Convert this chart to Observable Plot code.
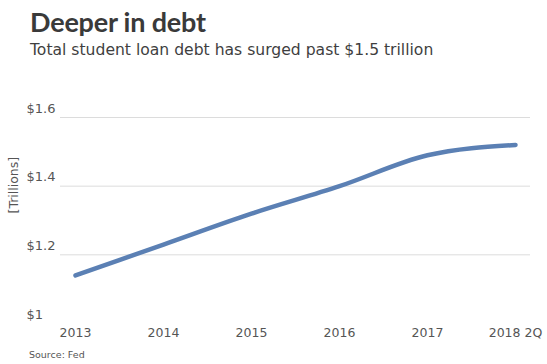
<!DOCTYPE html>
<html>
<head>
<meta charset="utf-8">
<script src="https://cdn.jsdelivr.net/npm/d3@7"></script>
<script src="https://cdn.jsdelivr.net/npm/@observablehq/plot@0.6"></script>
<style>
  html, body { margin: 0; padding: 0; background: #fff; width: 547px; height: 364px; overflow: hidden; }
  body { font-family: "DejaVu Sans", sans-serif; }
  #head { height: 90px; position: relative; }
  #title { position: absolute; left: 30px; top: 5px; font-family: Lato, sans-serif; font-size: 27px; font-weight: 700; color: #3a3a3a; letter-spacing: -0.2px; }
  #subtitle { position: absolute; left: 30px; top: 41px; font-size: 15.6px; color: #3f3f3f; }
  #chart svg { display: block; }
  #caption { position: relative; left: 29px; top: 4px; font-size: 9.5px; color: #555; line-height: 12px; }
</style>
</head>
<body>
<div id="head">
  <div id="title">Deeper in debt</div>
  <div id="subtitle">Total student loan debt has surged past $1.5 trillion</div>
</div>
<div id="chart"></div>
<div id="caption">Source: Fed</div>
<script>
const periods = ["2013", "2014", "2015", "2016", "2017", "2018 2Q"];
const debt = [1.14, 1.23, 1.32, 1.40, 1.49, 1.52];
const yTicks = [1.0, 1.2, 1.4, 1.6];
const gridTicks = [1.2, 1.4, 1.6];
const yLabel = ["[Trillions]"];

const data = periods.map((p, i) => ({period: p, value: debt[i]}));

const chart = Plot.plot({
  width: 547,
  height: 255,
  marginTop: 27,
  marginBottom: 22,
  marginLeft: 74,
  marginRight: 32,
  style: {fontFamily: "'DejaVu Sans', sans-serif", fontSize: "12px", color: "#555", background: "#fff"},
  x: {type: "point", domain: periods, padding: 0},
  y: {domain: [1.0, 1.6]},
  marks: [
    Plot.ruleY(gridTicks, {stroke: "#dcdcdc", strokeWidth: 1, insetLeft: -14, insetRight: -15}),
    Plot.axisY(yTicks, {
      anchor: "left", tickSize: 0, tickPadding: 48, textAnchor: "start", dy: -9,
      tickFormat: d => "$" + d3.format("~g")(d), label: null, fill: "#555", fontSize: 13
    }),
    Plot.axisX({anchor: "bottom", tickSize: 0, tickPadding: 5, label: null, fill: "#555", fontSize: 12.5}),
    Plot.text(yLabel, {frameAnchor: "left", rotate: -90, dx: -61, dy: -7, text: d => d, fill: "#555", fontSize: 12.5}),
    Plot.line(data, {x: "period", y: "value", stroke: "#5b80b4", strokeWidth: 4.5, curve: "monotone-x", strokeLinecap: "round"})
  ]
});
document.getElementById("chart").appendChild(chart);
</script>
</body>
</html>
